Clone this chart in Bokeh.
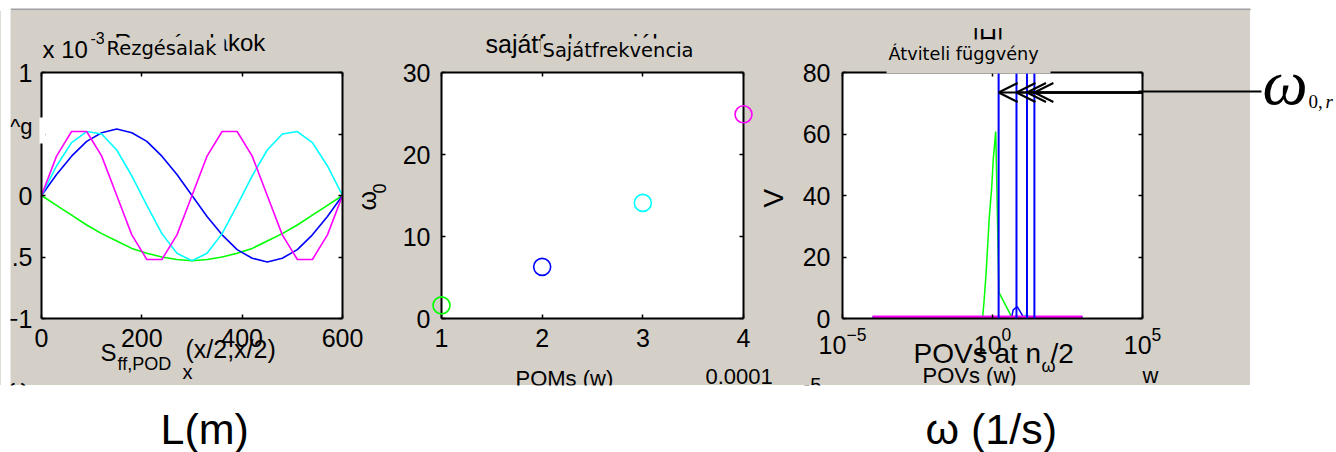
import math

from bokeh.plotting import figure
from bokeh.models import (Range1d, LinearAxis, LogAxis, FixedTicker, LogTickFormatter,
                          Label, BoxAnnotation, Arrow, OpenHead, Span, Spacer)
from bokeh.layouts import row, column
from bokeh.embed import file_html
from bokeh.resources import INLINE

PANEL = "#d4d0c8"
FONT = "Liberation Sans"
LABEL_FONT = "DejaVu Sans"
TICK_SIZE = "25px"

# ---- Rezgésalakok: mode shapes along the beam, in units of 10^-3 ----
pos_m = [0, 30, 60, 90, 120, 150, 180, 210, 240, 270, 300,
         330, 360, 390, 420, 450, 480, 510, 540, 570, 600]
shape_1 = [0, -0.08, -0.16, -0.24, -0.31, -0.37, -0.43, -0.47, -0.50, -0.52, -0.53,
           -0.52, -0.50, -0.47, -0.43, -0.37, -0.31, -0.24, -0.16, -0.08, 0]
shape_2 = [0, 0.17, 0.32, 0.44, 0.51, 0.54, 0.51, 0.44, 0.32, 0.17, 0,
           -0.17, -0.32, -0.44, -0.51, -0.54, -0.51, -0.44, -0.32, -0.17, 0]
shape_3 = [0, 0.24, 0.43, 0.52, 0.50, 0.37, 0.16, -0.08, -0.31, -0.47, -0.53,
           -0.47, -0.31, -0.08, 0.16, 0.37, 0.50, 0.52, 0.43, 0.24, 0]
shape_4 = [0, 0.32, 0.52, 0.52, 0.32, 0, -0.32, -0.52, -0.52, -0.32, 0,
           0.32, 0.52, 0.52, 0.32, 0, -0.32, -0.52, -0.52, -0.32, 0]
mode_colors = ["#00ff00", "#0000ff", "#00ffff", "#ff00ff"]

# ---- Sajátfrekvenciák ----
pom_index = [1, 2, 3, 4]
omega0 = [1.6, 6.3, 14.1, 24.9]

# ---- Átviteli függvény |H| per mode ----
h1_w = [1e-4, 0.47, 0.52, 0.61, 0.78, 0.94, 1.06, 1.28, 1.64, 4.3, 1e3]
h1_v = [0.6, 0.6, 5.3, 14.5, 32.8, 42.5, 51.7, 60.8, 8.5, 0.6, 0.6]
h2_w = [1e-4, 4.4, 4.9, 6.7, 10.5, 1e3]
h2_v = [0.6, 0.6, 2.8, 3.9, 0.6, 0.6]
h3_w = [1e-4, 10.5, 13.5, 17.0, 1e3]
h3_v = [0.6, 0.6, 1.3, 0.6, 0.6]
h4_w = [1e-4, 1e3]
h4_v = [0.6, 0.6]

ARROW_TAIL_W = 1e9      # arrow tail, right of the axes box
ARROW_H = 73.5          # |H| level of the ω0 arrows

PAGE_W, PAGE_H = 1336, 452
PANEL_TOP, PANEL_BOTTOM, PANEL_RIGHT = 11, 385, 1250
PANEL_H = PANEL_BOTTOM - PANEL_TOP
MID_SHIFT = 0.345       # label anchor sits this many ems above the baseline


def axes_panel(x0, width, frame, x_range, y_range, x_ticks, y_ticks, x_log=False):
    fl, fr, ft, fb = frame
    p = figure(width=width, height=PANEL_H, x_range=x_range, y_range=y_range,
               x_axis_type="log" if x_log else "linear", title=None,
               x_axis_label=None, y_axis_label=None,
               output_backend="svg", toolbar_location=None,
               min_border_left=fl - x0, min_border_right=x0 + width - fr,
               min_border_top=ft - PANEL_TOP, min_border_bottom=PANEL_BOTTOM - fb,
               background_fill_color="white", border_fill_color=PANEL,
               outline_line_color=None)
    p.grid.visible = False
    p.add_layout((LogAxis if x_log else LinearAxis)(axis_label=None), "above")
    p.add_layout(LinearAxis(axis_label=None), "right")
    for ax in p.below + p.above:
        ax.ticker = FixedTicker(ticks=x_ticks)
    for ax in p.left + p.right:
        ax.ticker = FixedTicker(ticks=y_ticks)
    for ax in p.below + p.above + p.left + p.right:
        ax.axis_line_width = 2
        ax.axis_line_color = "black"
        ax.major_tick_in = 4
        ax.major_tick_out = 0
        ax.minor_tick_in = 0
        ax.minor_tick_out = 0
        ax.major_tick_line_width = 1.5
        ax.major_tick_line_color = "black"
        ax.major_label_text_font = FONT
        ax.major_label_text_font_size = TICK_SIZE
        ax.major_label_text_color = "black"
    for ax in p.above + p.right:
        ax.major_label_text_color = None
        ax.major_label_text_font_size = "8px"
        ax.major_label_standoff = 0
    return p


# ---------------- Rezgésalakok ----------------
fig1 = axes_panel(0, 398, (41, 342, 70, 318), Range1d(0, 600), Range1d(-1, 1),
                  [0, 200, 400, 600], [-1, -0.5, 0, 0.5, 1])
fig1.left[0].major_label_standoff = 9
fig1.left[0].major_label_overrides = {-0.5: ".5", 0.5: ""}
fig1.below[0].major_label_standoff = 10
for ys, c in zip([shape_1, shape_2, shape_3, shape_4], mode_colors):
    fig1.line(pos_m, ys, line_color=c, line_width=1.6)

# ---------------- Sajátfrekvenciák ----------------
fig2 = axes_panel(398, 392, (441, 743, 72, 318), Range1d(1, 4), Range1d(0, 30),
                  [1, 2, 3, 4], [0, 10, 20, 30])
fig2.left[0].major_label_standoff = 11
fig2.below[0].major_label_standoff = 10
dots = fig2.scatter(pom_index, omega0, marker="circle", size=17, fill_color=None,
                    line_color=mode_colors, line_width=1.6)
dots.level = "overlay"

# ---------------- Átviteli függvény ----------------
fig3 = axes_panel(790, 460, (842, 1142, 71, 318), Range1d(1e-5, 1e5), Range1d(0, 80),
                  [1e-5, 1, 1e5], [0, 20, 40, 60, 80], x_log=True)
fig3.left[0].major_label_standoff = 12
fig3.below[0].major_label_standoff = 8
fig3.below[0].formatter = LogTickFormatter()
for w, v, c, lw in zip([h1_w, h2_w, h3_w, h4_w], [h1_v, h2_v, h3_v, h4_v],
                       mode_colors, [1.5, 1.5, 1.5, 2.5]):
    fig3.line(w, v, line_color=c, line_width=lw)
for w in omega0:
    fig3.add_layout(Span(location=w, dimension="height", line_color="#0000ff", line_width=2))
for w in omega0:
    fig3.add_layout(Arrow(start=None, end=OpenHead(size=19, line_width=2, line_color="black"),
                          x_start=ARROW_TAIL_W, x_end=w, y_start=ARROW_H, y_end=ARROW_H,
                          line_width=2, line_color="black"))

# ---------------- page layer: titles, stray labels, callout ----------------
ov = figure(width=PAGE_W, height=PAGE_H, x_range=Range1d(0, PAGE_W), y_range=Range1d(PAGE_H, 0),
            title=None, output_backend="svg", toolbar_location=None, min_border=0,
            x_axis_location=None, y_axis_location=None,
            background_fill_color=None, border_fill_color=None, outline_line_color=None,
            styles={"position": "absolute", "left": "0px", "top": "0px", "z-index": "5"})
ov.grid.visible = False


def text(x, y, s, size, font=FONT, align="left", vertical=False, style="normal"):
    # (x, y) is the start of the baseline in page pixels
    shift = MID_SHIFT * size
    ov.add_layout(Label(x=x - shift if vertical else x, y=y if vertical else y - shift,
                        text=s, text_font=font, text_font_size=f"{size}px",
                        text_font_style=style, text_align=align,
                        text_baseline="alphabetic",
                        angle=math.pi / 2 if vertical else 0.0, text_color="black"))


def box(left, right, top, bottom, color):
    ov.add_layout(BoxAnnotation(left=left, right=right, top=top, bottom=bottom,
                                fill_color=color, fill_alpha=1.0, line_color=None))


# top rule of the window
box(10, PANEL_RIGHT, 8, 10, "#a0a0a0")

# Rezgésalakok
text(42, 57, "x 10", 24)
text(90, 43, "-3", 16)
text(114, 50, "Rezgésalakok", 24)
box(104, 224, 37, 61, PANEL)
text(106, 55, "Rezgésalak", 19.5, font=LABEL_FONT)
box(39, 45, 117, 143, "white")
text(32, 134, "^g", 22, align="right")
text(100, 360, "S", 24)
text(117, 370, "ff,POD", 18)
text(182, 378, "x", 20)
text(185, 357, "(x/2,x/2)", 25)
text(375, 210, "ω", 25, vertical=True)
text(385, 193, "0", 18, vertical=True)
text(8, 395, "ω", 24)

# Sajátfrekvenciák
text(485, 52, "sajátfrekvenciák", 25)
box(540, 697, 38, 62, PANEL)
text(542, 57, "Sajátfrekvencia", 19.5, font=LABEL_FONT)
text(515, 386, "POMs (w)", 22)
text(705, 384, "0.0001", 22)
text(783, 207, "V", 28, vertical=True)

# Átviteli függvény
text(972, 46, "|H|", 25)
box(886, 1050, 39, 73, PANEL)
text(888, 60, "Átviteli függvény", 17.7, font=LABEL_FONT)
text(913, 363, "POVs at n", 28)
text(1041, 372, "ω", 18)
text(1050, 363, "/2", 28)
text(922, 383, "POVs (w)", 22)
text(1142, 383, "w", 22)
text(803, 391, "-5", 20)

# window edges cut the stray labels
box(0, PAGE_W, PANEL_BOTTOM, PAGE_H, "white")
box(0, 10, 0, PAGE_H, "white")

# ω0,r callout
ov.add_layout(Arrow(start=None, end=None, x_start=1138, x_end=1261, y_start=91, y_end=91,
                    line_width=2, line_color="black"))
text(1262, 104, "ω", 64, font="Liberation Serif", style="italic")
text(1308, 108, "0,", 19, font="Liberation Serif")
text(1325, 108, "r", 19, font="Liberation Serif", style="italic")

# captions under the panel
text(160, 443, "L(m)", 43)
text(925, 443, "ω (1/s)", 43)

panels = row(fig1, fig2, fig3, styles={"background-color": PANEL})
page = column(Spacer(width=PAGE_W, height=PANEL_TOP),
              row(panels, Spacer(width=PAGE_W - PANEL_RIGHT, height=PANEL_H)),
              Spacer(width=PAGE_W, height=PAGE_H - PANEL_BOTTOM),
              ov)

open("out.html", "w").write(file_html(page, INLINE))
